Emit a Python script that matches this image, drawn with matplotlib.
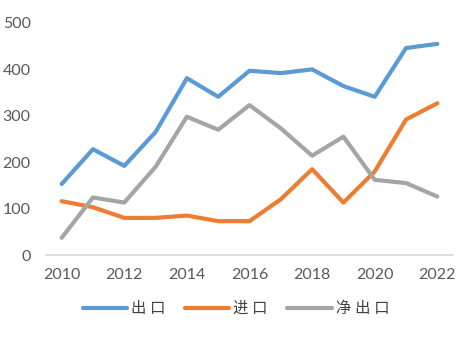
import matplotlib.pyplot as plt

plt.rcParams['font.family'] = ['Lato', 'Noto Sans CJK SC', 'DejaVu Sans']

years = list(range(2010, 2023))
exports = [153, 228, 192, 265, 381, 341, 397, 392, 400, 364, 341, 446, 455]
imports = [116, 103, 80, 80, 85, 73, 73, 120, 185, 113, 180, 292, 327]
net_exports = [37, 124, 113, 190, 298, 270, 323, 273, 214, 255, 162, 155, 126]

fig = plt.figure(figsize=(4.67, 3.37), dpi=100)
ax = fig.add_axes([0.0985, 0.2433, 0.8715, 0.6885])

ax.plot(years, exports, color='#5B9BD5', lw=3, label='出 口', solid_capstyle='round')
ax.plot(years, imports, color='#ED7D31', lw=3, label='进 口', solid_capstyle='round')
ax.plot(years, net_exports, color='#A5A5A5', lw=3, label='净 出 口', solid_capstyle='round')

ax.set_xlim(2009.5, 2022.5)
ax.set_ylim(0, 500)
ax.set_xticks(years[::2])
ax.set_yticks(range(0, 501, 100))

for side in ['top', 'right', 'left']:
    ax.spines[side].set_visible(False)
ax.spines['bottom'].set_color('#D9D9D9')
ax.spines['bottom'].set_linewidth(1.2)
ax.tick_params(length=0, labelsize=11.5, labelcolor='#595959')
ax.tick_params(axis='y', pad=11)
ax.tick_params(axis='x', pad=9)

leg = fig.legend(loc='center', bbox_to_anchor=(0.505, 0.083), ncol=3, frameon=False,
                 fontsize=11, handlelength=2.9, columnspacing=1.3, handletextpad=0.25)
for t in leg.get_texts():
    t.set_color('#404040')

fig.savefig('out.png', dpi=100)
